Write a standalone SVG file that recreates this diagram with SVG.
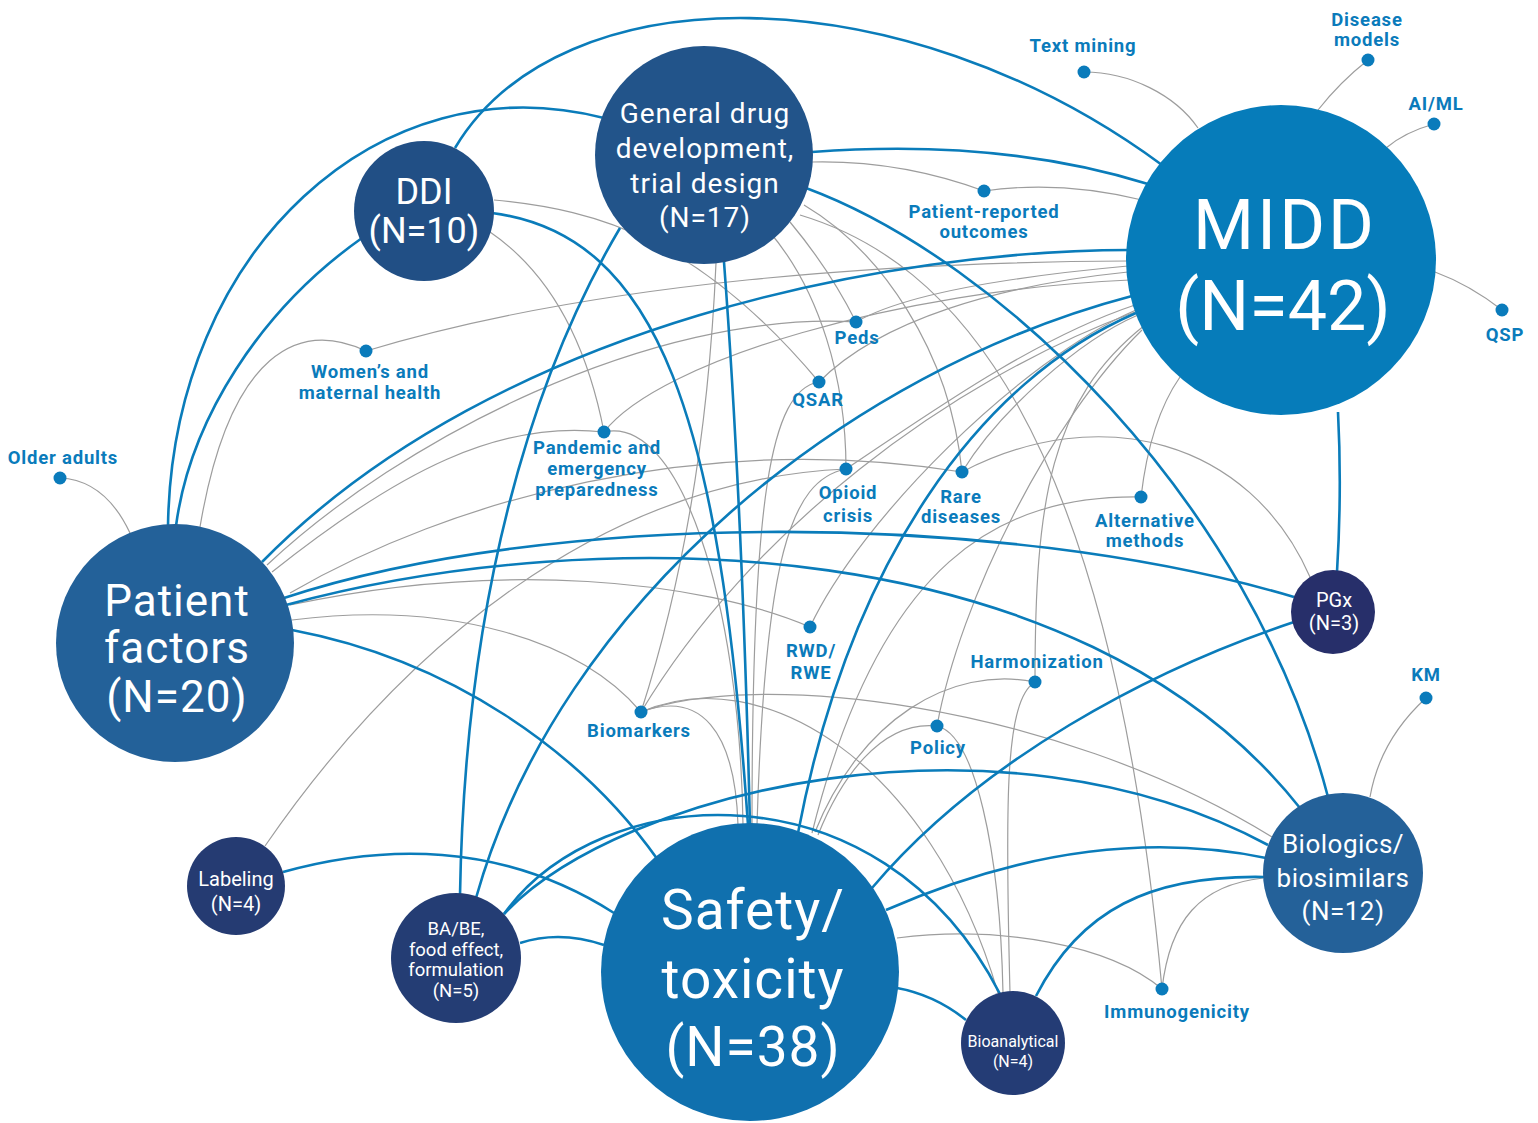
<svg xmlns="http://www.w3.org/2000/svg" width="1538" height="1123" viewBox="0 0 1538 1123">
<style>
.g{fill:none;stroke:#9d9d9d;stroke-width:1.2}
.b{fill:none;stroke:#0a7cba;stroke-width:2.6}
.dot{fill:#0a7bbb}
.lbl{font-family:Roboto,"Liberation Sans",sans-serif;font-weight:700;font-size:18.5px;letter-spacing:0.8px;fill:#0a7bbb;text-anchor:middle}
.nt{font-family:Roboto,"Liberation Sans",sans-serif;font-weight:400;fill:#ffffff;text-anchor:middle}
</style>
<rect width="1538" height="1123" fill="#ffffff"/>
<g id="connectors">
<path class="g" d="M1084,72 C1130,72 1175,95 1198,128"/>
<path class="g" d="M1368,60 Q1340,82 1318,110"/>
<path class="g" d="M1434,124 Q1405,132 1386,148"/>
<path class="g" d="M1502,310 Q1470,285 1435,272"/>
<path class="g" d="M984,191 Q1060,180 1142,200"/>
<path class="g" d="M812,162 Q900,160 984,191"/>
<path class="g" d="M790,222 Q830,270 856,322"/>
<path class="g" d="M856,322 Q920,285 1128,266"/>
<path class="g" d="M267,565 C400,440 650,310 856,322"/>
<path class="g" d="M366,351 C600,280 900,262 1128,261"/>
<path class="g" d="M366,351 C300,320 230,350 200,527"/>
<path class="g" d="M494,200 C600,210 700,240 819,382"/>
<path class="g" d="M819,382 C880,320 1000,285 1128,272"/>
<path class="g" d="M819,382 C770,390 752,500 752,825"/>
<path class="g" d="M490,232 C560,280 590,360 604,432"/>
<path class="g" d="M604,432 C660,360 900,290 1130,280"/>
<path class="g" d="M604,432 C500,420 400,470 272,572"/>
<path class="g" d="M604,432 C680,415 740,600 743,825"/>
<path class="g" d="M768,230 C820,290 846,380 846,469"/>
<path class="g" d="M846,469 C920,420 1030,340 1135,305"/>
<path class="g" d="M846,469 C790,480 765,560 757,825"/>
<path class="g" d="M290,593 C450,500 700,430 962,472"/>
<path class="g" d="M265,846 C400,650 600,480 846,469"/>
<path class="g" d="M804,205 C880,250 950,350 962,472"/>
<path class="g" d="M962,472 C1000,410 1080,340 1138,315"/>
<path class="g" d="M962,472 C1100,400 1250,440 1310,577"/>
<path class="g" d="M1141,497 Q1150,420 1180,377"/>
<path class="g" d="M1141,497 C1000,495 880,560 812,833"/>
<path class="g" d="M810,627 C860,520 1020,360 1136,310"/>
<path class="g" d="M810,627 C700,580 500,560 290,605"/>
<path class="g" d="M641,712 C750,530 950,380 1135,312"/>
<path class="g" d="M641,712 C690,560 710,400 716,263"/>
<path class="g" d="M641,712 C580,640 450,600 292,620"/>
<path class="g" d="M641,712 C700,690 735,730 738,825"/>
<path class="g" d="M641,712 C760,660 930,760 998,993"/>
<path class="g" d="M641,712 C750,670 1050,700 1272,837"/>
<path class="g" d="M1035,682 C1035,500 1050,400 1145,325"/>
<path class="g" d="M1035,682 C950,665 860,720 815,832"/>
<path class="g" d="M1035,682 C1005,700 1005,800 1010,993"/>
<path class="g" d="M937,726 C960,600 1050,420 1142,330"/>
<path class="g" d="M937,726 C880,720 840,780 818,835"/>
<path class="g" d="M937,726 C975,735 1000,850 1003,993"/>
<path class="g" d="M800,215 C950,260 1110,420 1162,989"/>
<path class="g" d="M897,938 C1000,925 1110,945 1162,989"/>
<path class="g" d="M1263,878 C1200,885 1170,920 1162,989"/>
<path class="g" d="M1426,698 Q1380,740 1370,797"/>
<path class="g" d="M60,478 Q105,480 130,533"/>
<path class="b" d="M455,148 C560,-28 900,-28 1162,165"/>
<path class="b" d="M168,526 C172,250 380,60 604,118"/>
<path class="b" d="M176,526 C190,420 260,310 362,238"/>
<path class="b" d="M812,152 Q1000,138 1148,184"/>
<path class="b" d="M806,188 C1000,260 1250,500 1328,797"/>
<path class="b" d="M492,213 C660,235 720,420 748,825"/>
<path class="b" d="M724,262 Q742,500 750,825"/>
<path class="b" d="M620,228 C530,380 465,600 460,895"/>
<path class="b" d="M1130,250 C900,250 500,320 262,562"/>
<path class="b" d="M1132,296 C850,370 560,600 476,898"/>
<path class="b" d="M1136,313 C980,380 850,560 798,833"/>
<path class="b" d="M284,598 C550,510 1000,510 1294,597"/>
<path class="b" d="M286,605 C600,520 1080,530 1300,808"/>
<path class="b" d="M292,630 C450,660 580,750 658,860"/>
<path class="b" d="M1338,412 Q1342,490 1337,572"/>
<path class="b" d="M1294,622 C1150,670 980,760 872,888"/>
<path class="b" d="M283,872 C380,845 500,840 614,913"/>
<path class="b" d="M504,914 C620,790 1000,700 1268,845"/>
<path class="b" d="M504,914 C600,780 880,760 1000,994"/>
<path class="b" d="M520,943 Q560,930 604,945"/>
<path class="b" d="M886,910 C1000,860 1130,830 1266,858"/>
<path class="b" d="M1036,996 C1080,910 1150,875 1264,877"/>
<path class="b" d="M897,988 Q935,995 966,1020"/>
</g>
<g id="node-midd">
<circle cx="1281" cy="260" r="155" fill="#067cba"/>
<text class="nt" x="1285" y="249" font-size="70" letter-spacing="3">MIDD</text>
<text class="nt" x="1283" y="330" font-size="70">(N=42)</text>
</g>
<g id="node-gdd">
<circle cx="704" cy="155" r="109" fill="#22548a"/>
<text class="nt" font-size="28" letter-spacing="1"><tspan x="705" y="123">General drug</tspan><tspan x="705" y="158">development,</tspan><tspan x="705" y="193">trial design</tspan><tspan x="705" y="227">(N=17)</tspan></text>
</g>
<g id="node-ddi">
<circle cx="424" cy="211" r="70" fill="#214f85"/>
<text class="nt" font-size="36"><tspan x="424" y="204">DDI</tspan><tspan x="424" y="243">(N=10)</tspan></text>
</g>
<g id="node-patient-factors">
<circle cx="175" cy="643" r="119" fill="#236199"/>
<text class="nt" font-size="44" letter-spacing="1"><tspan x="177" y="616">Patient</tspan><tspan x="177" y="663">factors</tspan><tspan x="177" y="712">(N=20)</tspan></text>
</g>
<g id="node-safety">
<circle cx="750" cy="972" r="149" fill="#1070ae"/>
<text class="nt" font-size="55" letter-spacing="1"><tspan x="753" y="929">Safety/</tspan><tspan x="753" y="998">toxicity</tspan><tspan x="753" y="1066">(N=38)</tspan></text>
</g>
<g id="node-biologics">
<circle cx="1343" cy="873" r="80" fill="#246199"/>
<text class="nt" font-size="26" letter-spacing="0.5"><tspan x="1343" y="853">Biologics/</tspan><tspan x="1343" y="887">biosimilars</tspan><tspan x="1343" y="920">(N=12)</tspan></text>
</g>
<g id="node-pgx">
<circle cx="1333" cy="612" r="42" fill="#272f6a"/>
<text class="nt" font-size="20"><tspan x="1334" y="607">PGx</tspan><tspan x="1334" y="630">(N=3)</tspan></text>
</g>
<g id="node-labeling">
<circle cx="236" cy="886" r="49" fill="#253b72"/>
<text class="nt" font-size="20"><tspan x="236" y="886">Labeling</tspan><tspan x="236" y="911">(N=4)</tspan></text>
</g>
<g id="node-babe">
<circle cx="456" cy="958" r="65" fill="#243d74"/>
<text class="nt" font-size="18.5"><tspan x="456" y="935">BA/BE,</tspan><tspan x="456" y="956">food effect,</tspan><tspan x="456" y="976">formulation</tspan><tspan x="456" y="997">(N=5)</tspan></text>
</g>
<g id="node-bioanalytical">
<circle cx="1013" cy="1043" r="52" fill="#243c75"/>
<text class="nt" font-size="16"><tspan x="1013" y="1047">Bioanalytical</tspan><tspan x="1013" y="1067">(N=4)</tspan></text>
</g>
<g id="node-text-mining"><circle class="dot" cx="1084" cy="72" r="6.5"/><text class="lbl" x="1083" y="52">Text mining</text></g>
<g id="node-disease-models"><circle class="dot" cx="1368" cy="60" r="6.5"/><text class="lbl"><tspan x="1367" y="26">Disease</tspan><tspan x="1367" y="46">models</tspan></text></g>
<g id="node-aiml"><circle class="dot" cx="1434" cy="124" r="6.5"/><text class="lbl" x="1436" y="110">AI/ML</text></g>
<g id="node-qsp"><circle class="dot" cx="1502" cy="310" r="6.5"/><text class="lbl" x="1505" y="341">QSP</text></g>
<g id="node-pro"><circle class="dot" cx="984" cy="191" r="6.5"/><text class="lbl"><tspan x="984" y="218">Patient-reported</tspan><tspan x="984" y="238">outcomes</tspan></text></g>
<g id="node-peds"><circle class="dot" cx="856" cy="322" r="6.5"/><text class="lbl" x="857" y="344">Peds</text></g>
<g id="node-qsar"><circle class="dot" cx="819" cy="382" r="6.5"/><text class="lbl" x="818" y="406">QSAR</text></g>
<g id="node-womens"><circle class="dot" cx="366" cy="351" r="6.5"/><text class="lbl"><tspan x="370" y="378">Women’s and</tspan><tspan x="370" y="399">maternal health</tspan></text></g>
<g id="node-older-adults"><circle class="dot" cx="60" cy="478" r="6.5"/><text class="lbl" x="63" y="464">Older adults</text></g>
<g id="node-pandemic"><circle class="dot" cx="604" cy="432" r="6.5"/><text class="lbl"><tspan x="597" y="454">Pandemic and</tspan><tspan x="597" y="475">emergency</tspan><tspan x="597" y="496">preparedness</tspan></text></g>
<g id="node-opioid"><circle class="dot" cx="846" cy="469" r="6.5"/><text class="lbl"><tspan x="848" y="499">Opioid</tspan><tspan x="848" y="522">crisis</tspan></text></g>
<g id="node-rare"><circle class="dot" cx="962" cy="472" r="6.5"/><text class="lbl"><tspan x="961" y="503">Rare</tspan><tspan x="961" y="523">diseases</tspan></text></g>
<g id="node-alternative"><circle class="dot" cx="1141" cy="497" r="6.5"/><text class="lbl"><tspan x="1145" y="527">Alternative</tspan><tspan x="1145" y="547">methods</tspan></text></g>
<g id="node-rwd"><circle class="dot" cx="810" cy="627" r="6.5"/><text class="lbl"><tspan x="811" y="657">RWD/</tspan><tspan x="811" y="679">RWE</tspan></text></g>
<g id="node-harmonization"><circle class="dot" cx="1035" cy="682" r="6.5"/><text class="lbl" x="1037" y="668">Harmonization</text></g>
<g id="node-biomarkers"><circle class="dot" cx="641" cy="712" r="6.5"/><text class="lbl" x="639" y="737">Biomarkers</text></g>
<g id="node-policy"><circle class="dot" cx="937" cy="726" r="6.5"/><text class="lbl" x="938" y="754">Policy</text></g>
<g id="node-km"><circle class="dot" cx="1426" cy="698" r="6.5"/><text class="lbl" x="1426" y="681">KM</text></g>
<g id="node-immunogenicity"><circle class="dot" cx="1162" cy="989" r="6.5"/><text class="lbl" x="1177" y="1018">Immunogenicity</text></g>
</svg>
